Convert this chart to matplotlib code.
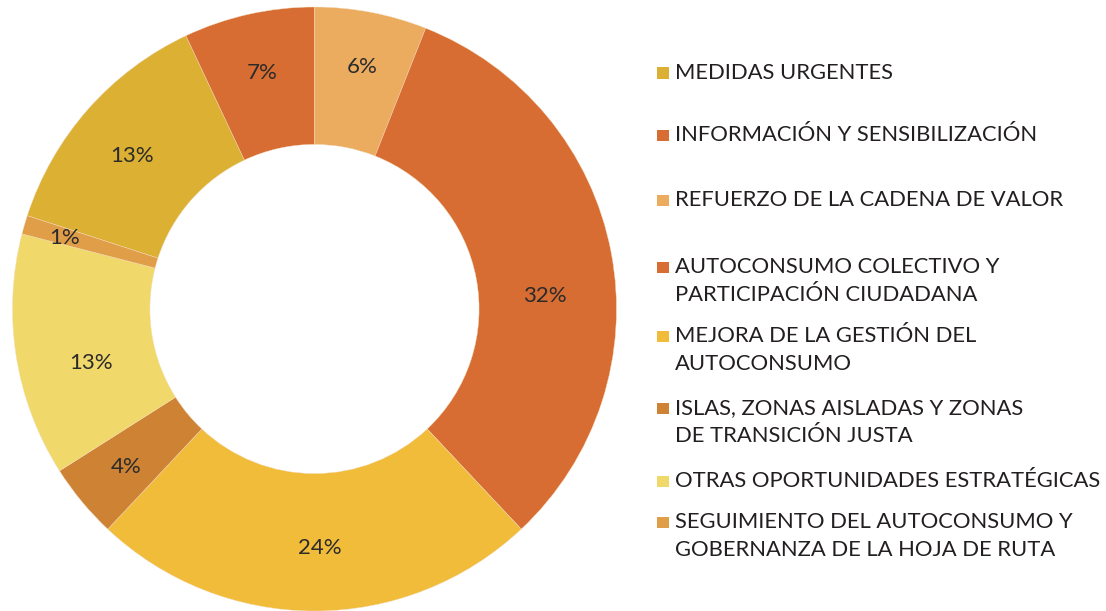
import matplotlib.pyplot as plt
from matplotlib.patches import Rectangle

plt.rcParams['font.family'] = ['Lato', 'DejaVu Sans']

categories = [
    'MEDIDAS URGENTES',
    'INFORMACIÓN Y SENSIBILIZACIÓN',
    'REFUERZO DE LA CADENA DE VALOR',
    'AUTOCONSUMO COLECTIVO Y\nPARTICIPACIÓN CIUDADANA',
    'MEJORA DE LA GESTIÓN DEL\nAUTOCONSUMO',
    'ISLAS, ZONAS AISLADAS Y ZONAS\nDE TRANSICIÓN JUSTA',
    'OTRAS OPORTUNIDADES ESTRATÉGICAS',
    'SEGUIMIENTO DEL AUTOCONSUMO Y\nGOBERNANZA DE LA HOJA DE RUTA',
]
shares = [13, 7, 6, 32, 24, 4, 13, 1]
colors = ['#DBB033', '#D76D32', '#EBAC60', '#D76D32',
          '#F1BC3A', '#CE8234', '#F0D96A', '#E09E48']

W, H = 1106, 611
fig = plt.figure(figsize=(W / 100, H / 100), dpi=100)

# donut: centre (314.5, 309) px, outer radius 302 px
cx, cy, R = 314.5, 309, 302
ax = fig.add_axes([(cx - R) / W, (H - cy - R) / H, 2 * R / W, 2 * R / H])
wedges, texts, autotexts = ax.pie(
    shares, colors=colors, startangle=162, counterclock=False,
    radius=1, wedgeprops=dict(width=0.455, edgecolor='#f3dcbc', linewidth=0.3),
    autopct='%d%%', pctdistance=0.78,
    textprops=dict(fontsize=16, color='#2b2b2b'))
ax.set_xlim(-1, 1)
ax.set_ylim(-1, 1)
ax.set_aspect('equal')
ax.axis('off')

# hand placement of the percentage labels (fractions of the radius)
label_xy = [(-0.604, 0.507), (-0.174, 0.781), (0.157, 0.801), (0.763, 0.043),
            (0.018, -0.791), (-0.624, -0.523), (-0.740, -0.179), (-0.826, 0.235)]
for t, (x, y) in zip(autotexts, label_xy):
    t.set_position((x, y))
    t.set_va('center')

# legend entries, y is the baseline of the first line in px
legend_y = [79, 141, 206, 273, 342, 414, 487, 528]
line_gap = 28
for name, col, y in zip(categories, colors, legend_y):
    fig.patches.append(Rectangle((657 / W, (H - y) / H), 11.5 / W, 11.5 / H,
                                 transform=fig.transFigure, facecolor=col,
                                 edgecolor='none'))
    for i, line in enumerate(name.split('\n')):
        fig.text(675 / W, (H - y - i * line_gap) / H, line, fontsize=15.8,
                 color='#231f20', ha='left', va='baseline')

fig.savefig('out.png', dpi=100, facecolor='white')
